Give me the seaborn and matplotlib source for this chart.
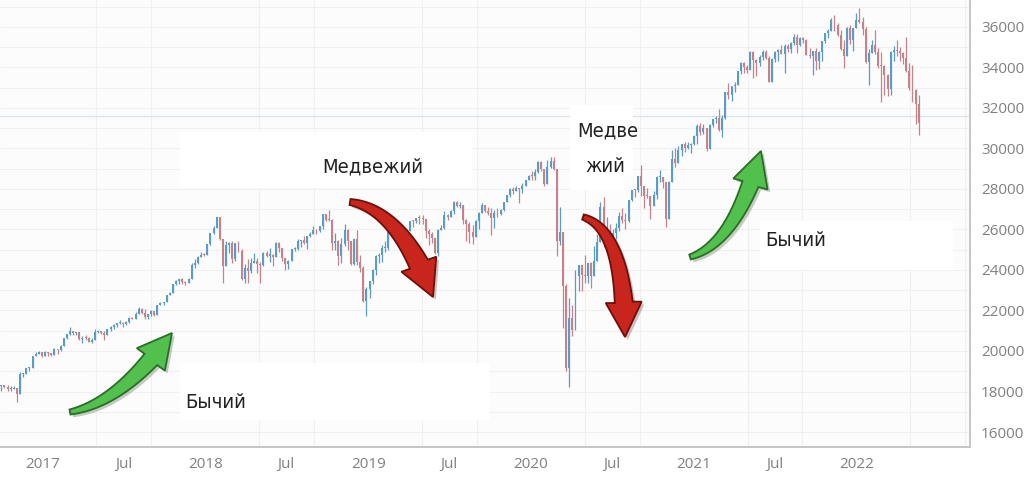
import numpy as np
import pandas as pd
import matplotlib
matplotlib.use("Agg")
import matplotlib.pyplot as plt
import matplotlib.dates as mdates
import matplotlib.patheffects as pe
from matplotlib.patches import Rectangle, Polygon
from matplotlib.ticker import MultipleLocator, FixedLocator, FuncFormatter
import seaborn as sns

# Weekly candles (week ending Friday), index points
week_start = "2016-09-23"
first_open = 18124

closes = [
    # 2016
    18261, 18308, 18240, 18138, 18145, 18161, 17888, 18847, 18868, 19153, 19171, 19757, 19843, 19934, 19763,
    # 2017
    19964, 19886, 19827, 20094, 20071, 20269, 20624, 20821, 21005, 20903, 20914, 20596, 20663, 20656, 20453, 20548,
    20940, 21007, 20897, 20805, 21080, 21206, 21271, 21384, 21395, 21350, 21414, 21638, 21580, 21830, 22092, 21858,
    21675, 21814, 21988, 21798, 22268, 22350, 22405, 22774, 22871, 23329, 23434, 23539, 23422, 23358, 23558, 24231,
    24329, 24652, 24754, 24719,
    # 2018
    25295, 25803, 26071, 26617, 25521, 24190, 25219, 25310, 24538, 25336, 24947, 23533, 24103, 23933, 24360, 24463,
    24311, 24263, 24831, 24715, 24753, 24635, 25317, 25090, 24581, 24271, 24456, 25019, 25058, 25451, 25463, 25313,
    25669, 25790, 25965, 25917, 26154, 26744, 26458, 26447, 25340, 25444, 24688, 25270, 25989, 25413, 24286, 25538,
    24389, 24101, 22445, 23062,
    # 2019
    23433, 23996, 24706, 24737, 25064, 25106, 25883, 26031, 26026, 25450, 25849, 25502, 25929, 26425, 26412, 26559,
    26543, 26505, 25942, 25764, 25585, 24815, 25984, 26090, 26719, 26600, 26922, 27332, 27154, 27192, 26485, 26287,
    25886, 25629, 26403, 26797, 27220, 26935, 26820, 26573, 26817, 26770, 26958, 27347, 27681, 28005, 27876, 28051,
    28015, 28135, 28455, 28645,
    # 2020
    28635, 28823, 29348, 28990, 28256, 29102, 29398, 28992, 25409, 25865, 23186, 19174, 21637, 21052, 23719, 24242,
    23775, 23724, 24331, 23685, 24465, 25383, 27111, 25606, 25871, 25016, 25827, 26075, 26672, 26470, 26428, 27433,
    27931, 27930, 28654, 28133, 27666, 27657, 27174, 27683, 28587, 28606, 28335, 26502, 28323, 29479, 29263, 29910,
    30218, 30046, 30179, 30200,
    # 2021
    30606, 31098, 30814, 30997, 29983, 31148, 31458, 31494, 30932, 31496, 32779, 32628, 33073, 33153, 33801, 34200,
    34043, 33875, 34778, 34382, 34208, 34529, 34756, 34480, 33290, 34434, 34786, 34870, 34688, 35062, 34935, 35209,
    35515, 35120, 35455, 35369, 34608, 34584, 34798, 34326, 34746, 35295, 35677, 35820, 36328, 36100, 35602, 34899,
    34580, 35971, 35365, 35950, 36338,
    # 2022
    36231, 35912, 34265, 34725, 35089, 34738, 34079, 34059, 33615, 32944, 34754, 34861, 34818, 34721, 34451, 33811,
    32977, 32899, 32197, 31262,
]

highs = [
    18380, 18340, 18330, 18330, 18250, 18260, 18170, 18940, 18930, 19160, 19230, 19760, 19970, 19990, 19950,
    19999, 19970, 19880, 20130, 20080, 20300, 20640, 20830, 21170, 20980, 20960, 20930, 20740, 20780, 20680, 20620,
    21070, 21020, 21010, 21000, 21110, 21230, 21310, 21400, 21530, 21450, 21480, 21680, 21690, 21930, 22180, 22120,
    22080, 21850, 22010, 21990, 22280, 22420, 22410, 22780, 22900, 23330, 23490, 23560, 23600, 23480, 23600, 24330,
    24530, 24670, 24880, 24840,
    25300, 25810, 26150, 26620, 26610, 25540, 25430, 25400, 25450, 25350, 25450, 25030, 24280, 24540, 24580, 24860,
    24590, 24400, 24870, 24960, 25090, 24780, 25400, 25400, 25100, 24580, 24500, 25020, 25130, 25540, 25480, 25690,
    25690, 25890, 26170, 26040, 26170, 26770, 26750, 26950, 26520, 25840, 25480, 25560, 26280, 26000, 25420, 25540,
    25980, 24760, 24210, 23140,
    23470, 24060, 24750, 24820, 25250, 25440, 25890, 26060, 26240, 26150, 25910, 26110, 25950, 26430, 26490, 26570,
    26700, 26700, 26500, 26000, 25880, 25590, 26000, 26200, 26910, 26780, 26970, 27390, 27400, 27340, 27230, 26530,
    26380, 26230, 26470, 26860, 27310, 27220, 27090, 27050, 26950, 27040, 27010, 27350, 27690, 28030, 28090, 28170,
    28070, 28290, 28460, 28700,
    28870, 29010, 29370, 29370, 28950, 29410, 29570, 29570, 28990, 27100, 25900, 23300, 22600, 22290, 24010, 24260,
    24250, 24760, 24360, 24400, 25200, 25760, 27340, 27580, 26610, 26290, 26010, 26330, 26880, 27050, 26790, 27440,
    28120, 28010, 28660, 29200, 28100, 28040, 27640, 27900, 28620, 28960, 28610, 28330, 28400, 29930, 30000, 30120,
    30220, 30320, 30320, 30250,
    30640, 31190, 31270, 31190, 31030, 31200, 31470, 31600, 31960, 31660, 32790, 33230, 33080, 33260, 33830, 34260,
    34260, 34120, 34810, 34810, 34400, 34630, 34850, 34850, 34560, 34480, 34820, 34900, 35090, 35160, 35170, 35240,
    35630, 35630, 35480, 35500, 35380, 34940, 34830, 34960, 34830, 35320, 35720, 35890, 36430, 36570, 36210, 35860,
    35360, 36010, 36090, 35960, 36680,
    36950, 36470, 36000, 34890, 35360, 35830, 34980, 34760, 34110, 33700, 34790, 35050, 35370, 35030, 34750, 35490,
    34230, 34120, 32950, 32650,
]

lows = [
    18100, 18030, 18170, 18030, 18040, 18100, 17500, 17880, 18730, 18880, 19030, 19170, 19730, 19840, 19720,
    19780, 19760, 19730, 19800, 19830, 20000, 20270, 20600, 20810, 20810, 20800, 20520, 20410, 20550, 20450, 20380,
    20550, 20870, 20860, 20550, 20800, 20990, 21090, 21200, 21350, 21200, 21300, 21400, 21560, 21580, 21830, 21840,
    21600, 21600, 21740, 21710, 21820, 22260, 22280, 22410, 22760, 22880, 23240, 23320, 23300, 23240, 23360, 23550,
    24120, 24320, 24650, 24710,
    24810, 25250, 25790, 26050, 25490, 23360, 24230, 24820, 24340, 24430, 24880, 23510, 23340, 23340, 23860, 24330,
    23850, 23340, 24180, 24640, 24400, 24220, 24700, 24880, 24460, 23990, 24070, 24460, 24950, 24990, 25150, 25280,
    25050, 25630, 25790, 25790, 25880, 26040, 26420, 26400, 25000, 25000, 24270, 24330, 25200, 25010, 24270, 24260,
    24240, 23880, 22400, 21710,
    22640, 23290, 23740, 24350, 24400, 24880, 25000, 25820, 25850, 25250, 25230, 25430, 25380, 25960, 26140, 26300,
    26280, 26290, 25600, 25220, 25330, 24810, 24680, 25950, 26020, 26460, 26600, 26780, 27090, 27070, 26250, 25410,
    25340, 25300, 25650, 26040, 26800, 26880, 26690, 25740, 26080, 26600, 26720, 26920, 27360, 27580, 27750, 27900,
    27330, 27800, 28130, 28470,
    28420, 28420, 28780, 28910, 28170, 28320, 29040, 28920, 24680, 25230, 21150, 19030, 18210, 20740, 21080, 22940,
    22940, 23360, 23360, 23100, 23700, 24470, 25370, 25120, 24840, 24880, 24840, 25520, 25920, 26300, 26040, 26360,
    27400, 27600, 27830, 27660, 27040, 27560, 26540, 27140, 27490, 28350, 28070, 26140, 26510, 28600, 29060, 29260,
    29640, 29840, 29970, 29760,
    30150, 30200, 30680, 30700, 29860, 29980, 31050, 31250, 30870, 30550, 31460, 32450, 32360, 32790, 33140, 33670,
    33720, 33750, 33880, 33470, 33590, 34090, 34350, 34420, 33270, 33270, 34260, 34330, 34670, 33740, 34770, 34720,
    35090, 34690, 35040, 35230, 34600, 34450, 33610, 33890, 33900, 34320, 35200, 35450, 35780, 35800, 35530, 34860,
    33970, 34570, 35160, 34820, 35930,
    36180, 35610, 34200, 33150, 34700, 34660, 33970, 32270, 32630, 32580, 32630, 34300, 34570, 34310, 34160, 33780,
    32910, 32270, 31230, 30640,
]

x_tick_dates = ["2017-01-01", "2017-07-01", "2018-01-01", "2018-07-01", "2019-01-01", "2019-07-01",
                "2020-01-01", "2020-07-01", "2021-01-01", "2021-07-01", "2022-01-01"]
y_ticks = list(range(16000, 36001, 2000))
last_price = 31600

# annotation texts: (text, left px, centre px)
labels = [
    ("Медвежий", 322, 167),
    ("Бычий", 185, 402),
    ("Бычий", 765, 240),
    ("Медве", 577, 131),
    ("жий", 585, 167),
]
# white boxes behind labels (x0, y0, x1, y1) in px
boxes = [(180, 132, 472, 188), (180, 363, 490, 420), (760, 221, 953, 270), (570, 105, 633, 190)]

W, H = 1024, 482
UP, DOWN = "#5b9cc4", "#c4828a"

df = pd.DataFrame({
    "date": pd.date_range(week_start, periods=len(closes), freq="W-FRI"),
    "close": closes, "high": highs, "low": lows,
})
df["open"] = [first_open] + closes[:-1]
df["high"] = df[["high", "open", "close"]].max(axis=1)
df["low"] = df[["low", "open", "close"]].min(axis=1)
df["x"] = mdates.date2num(df["date"])
colors = np.where(df["close"] >= df["open"], UP, DOWN)

sns.set_style("whitegrid")
plt.rcParams["font.family"] = ["Open Sans", "DejaVu Sans"]

fig = plt.figure(figsize=(W / 100, H / 100), dpi=100)
ax = fig.add_axes([0, 35 / H, 970 / W, 447 / H])
ax.set_facecolor("#fcfcfc")

# candles
ax.vlines(df["x"], df["low"], df["high"], colors=colors, lw=0.9, zorder=2)
body_lo = df[["open", "close"]].min(axis=1)
body_h = (df["close"] - df["open"]).abs().clip(lower=50)
ax.bar(df["x"], body_h, bottom=body_lo, width=4.4, color=colors, lw=0, zorder=3)
ax.axhline(last_price, color="#dde4e8", lw=1.0, zorder=1)

ax.set_xlim(mdates.date2num(pd.Timestamp("2016-09-27")), mdates.date2num(pd.Timestamp("2022-09-12")))
ax.set_ylim(15260, 37330)

tick_x = mdates.date2num(pd.to_datetime(x_tick_dates))
ax.xaxis.set_major_locator(FixedLocator(tick_x))
ax.xaxis.set_minor_locator(mdates.MonthLocator(bymonth=[1, 5, 9]))
ax.xaxis.set_major_formatter(FuncFormatter(
    lambda v, _: str(mdates.num2date(v).year) if mdates.num2date(v).month == 1 else "Jul"))
ax.yaxis.tick_right()
ax.set_yticks(y_ticks)
ax.set_yticklabels([str(v) for v in y_ticks])
ax.yaxis.set_minor_locator(MultipleLocator(1000))

ax.grid(False)
ax.grid(True, which="both", axis="y", color="#f0f0f0", lw=0.8, zorder=0)
ax.grid(True, which="minor", axis="x", color="#f0f0f0", lw=0.8, zorder=0)
ax.tick_params(which="both", length=0)
ax.tick_params(axis="y", pad=8, labelsize=11, labelcolor="#808080")
ax.tick_params(axis="x", pad=7, labelsize=11, labelcolor="#808080")
ax.set_axisbelow(True)

for s in ["left", "top"]:
    ax.spines[s].set_visible(False)
for s in ["bottom", "right"]:
    ax.spines[s].set_color("#c2c2c2")
    ax.spines[s].set_linewidth(1.3)


def fxy(x, y):
    return x / W, 1 - y / H


for x0, y0, x1, y1 in boxes:
    fig.add_artist(Rectangle(fxy(x0, y1), (x1 - x0) / W, (y1 - y0) / H, transform=fig.transFigure,
                             facecolor="white", edgecolor="none", zorder=5))

for txt, x, y in labels:
    fig.text(*fxy(x, y), txt, ha="left", va="center", fontsize=14.5, color="#222222", zorder=7,
             family=["DejaVu Sans"], fontstretch="condensed", fontweight="light")


def curved_arrow(tail, ctrl, tip, body_w, head_w, head_l, face, edge):
    p0, c, p2 = (np.array(p, float) for p in (tail, ctrl, tip))
    u = np.linspace(0, 1, 400)[:, None]
    curve = (1 - u) ** 2 * p0 + 2 * u * (1 - u) * c + u ** 2 * p2
    dist = np.hypot(*(curve - p2).T)
    k = int(np.argmax(dist <= head_l))
    shaft = curve[:k + 1]
    d = np.gradient(shaft, axis=0)
    d /= np.hypot(d[:, 0], d[:, 1])[:, None]
    n = np.column_stack([-d[:, 1], d[:, 0]])
    t = np.linspace(0, 1, len(shaft))[:, None]
    w = body_w * (0.3 + 0.7 * t) / 2
    left, right = shaft + n * w, shaft - n * w
    base = shaft[-1]
    hd = (p2 - base) / np.hypot(*(p2 - base))
    hn = np.array([-hd[1], hd[0]])
    pts = np.vstack([left, base + hn * head_w / 2, p2, base - hn * head_w / 2, right[::-1]])
    poly = Polygon(np.column_stack([pts[:, 0] / W, 1 - pts[:, 1] / H]), closed=True,
                   transform=fig.transFigure, facecolor=face, edgecolor=edge, lw=1.3, zorder=6)
    poly.set_path_effects([pe.SimplePatchShadow(offset=(2, -2), alpha=0.25), pe.Normal()])
    fig.add_artist(poly)


GREEN, GREEN_EDGE = "#52c04c", "#2b6d27"
RED, RED_EDGE = "#c8251d", "#6e0f0b"
curved_arrow((70, 412), (122, 402), (172, 333), 17, 36, 34, GREEN, GREEN_EDGE)
curved_arrow((690, 257), (736, 243), (761, 151), 17, 36, 35, GREEN, GREEN_EDGE)
curved_arrow((350, 202), (401, 210), (433, 297), 20, 38, 36, RED, RED_EDGE)
curved_arrow((583, 217), (625, 230), (625, 337), 18, 36, 35, RED, RED_EDGE)

fig.savefig("out.png", dpi=100, facecolor="white")
